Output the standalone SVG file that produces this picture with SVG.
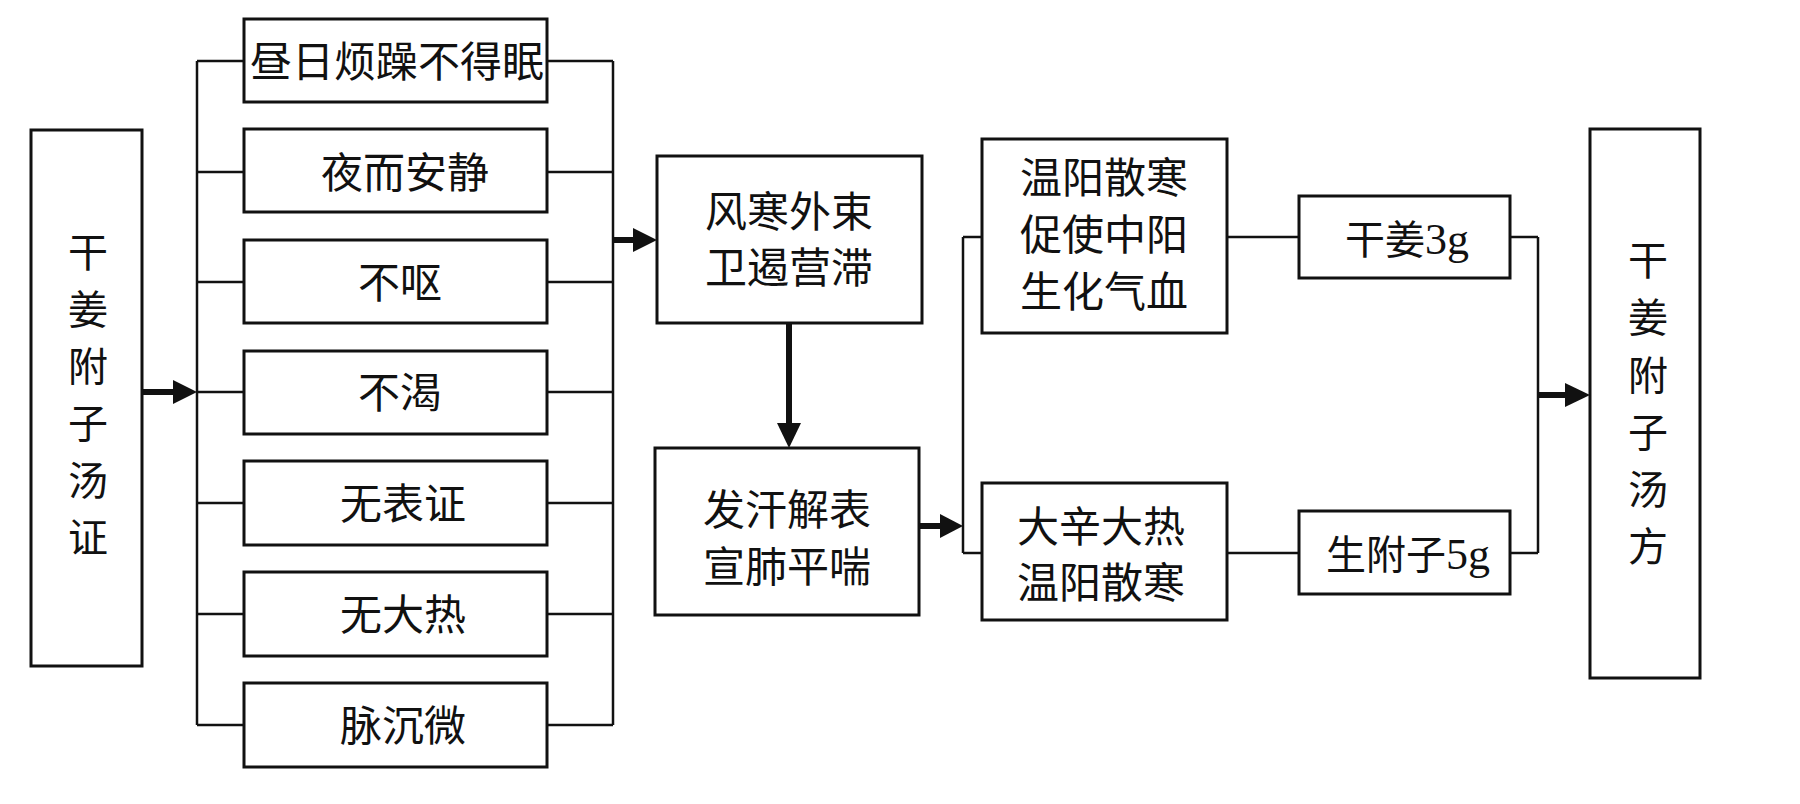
<svg xmlns="http://www.w3.org/2000/svg" width="1800" height="804" viewBox="0 0 1800 804">
<style>
.box{fill:#fff;stroke:#111;stroke-width:3}
.ln{stroke:#111;stroke-width:2.5;fill:none}
.shaft{stroke:#111;stroke-width:6;fill:none}
.head{fill:#111;stroke:none}
.t{font-family:"Noto Sans CJK SC","Liberation Serif",sans-serif;font-size:42px;fill:#111;text-anchor:middle}
.tv{font-size:40px}
.s{font-size:40px}
.lat{font-family:"Liberation Serif",serif;font-size:44px}
</style>
<rect width="1800" height="804" fill="#fff"/>
<g id="connectors">
  <line class="ln" x1="197" y1="61" x2="197" y2="725"/>
  <line class="ln" x1="613" y1="61" x2="613" y2="725"/>
  <line class="ln" x1="197" y1="61" x2="244" y2="61"/>
  <line class="ln" x1="197" y1="172" x2="244" y2="172"/>
  <line class="ln" x1="197" y1="282" x2="244" y2="282"/>
  <line class="ln" x1="197" y1="392" x2="244" y2="392"/>
  <line class="ln" x1="197" y1="503" x2="244" y2="503"/>
  <line class="ln" x1="197" y1="614" x2="244" y2="614"/>
  <line class="ln" x1="197" y1="725" x2="244" y2="725"/>
  <line class="ln" x1="547" y1="61" x2="613" y2="61"/>
  <line class="ln" x1="547" y1="172" x2="613" y2="172"/>
  <line class="ln" x1="547" y1="282" x2="613" y2="282"/>
  <line class="ln" x1="547" y1="392" x2="613" y2="392"/>
  <line class="ln" x1="547" y1="503" x2="613" y2="503"/>
  <line class="ln" x1="547" y1="614" x2="613" y2="614"/>
  <line class="ln" x1="547" y1="725" x2="613" y2="725"/>
  <line class="shaft" x1="142" y1="392" x2="176" y2="392"/>
  <polygon class="head" points="173,380 197,392 173,404"/>
  <line class="shaft" x1="613" y1="240" x2="636" y2="240"/>
  <polygon class="head" points="633,228 657,240 633,252"/>
  <line class="shaft" x1="789" y1="323" x2="789" y2="426"/>
  <polygon class="head" points="777,423 789,448 801,423"/>
  <line class="shaft" x1="919" y1="526" x2="943" y2="526"/>
  <polygon class="head" points="940,514 963,526 940,538"/>
  <line class="ln" x1="963" y1="237" x2="963" y2="553"/>
  <line class="ln" x1="963" y1="237" x2="982" y2="237"/>
  <line class="ln" x1="963" y1="553" x2="982" y2="553"/>
  <line class="ln" x1="1227" y1="237" x2="1299" y2="237"/>
  <line class="ln" x1="1227" y1="553" x2="1299" y2="553"/>
  <line class="ln" x1="1510" y1="237" x2="1538" y2="237"/>
  <line class="ln" x1="1510" y1="553" x2="1538" y2="553"/>
  <line class="ln" x1="1538" y1="237" x2="1538" y2="553"/>
  <line class="shaft" x1="1538" y1="395" x2="1568" y2="395"/>
  <polygon class="head" points="1565,383 1590,395 1565,407"/>
</g>
<g id="n-start">
  <rect class="box" x="31" y="130" width="111" height="536"/>
  <text class="t tv" x="88"><tspan x="88" y="267">干</tspan><tspan x="88" y="324">姜</tspan><tspan x="88" y="381">附</tspan><tspan x="88" y="438">子</tspan><tspan x="88" y="495">汤</tspan><tspan x="88" y="552">证</tspan></text>
</g>
<g id="n-s1"><rect class="box" x="244" y="19" width="303" height="83"/><text class="t" x="397" y="77">昼日烦躁不得眠</text></g>
<g id="n-s2"><rect class="box" x="244" y="129" width="303" height="83"/><text class="t" x="405" y="188">夜而安静</text></g>
<g id="n-s3"><rect class="box" x="244" y="240" width="303" height="83"/><text class="t" x="400" y="298">不呕</text></g>
<g id="n-s4"><rect class="box" x="244" y="351" width="303" height="83"/><text class="t" x="400" y="408">不渴</text></g>
<g id="n-s5"><rect class="box" x="244" y="461" width="303" height="84"/><text class="t" x="403" y="519">无表证</text></g>
<g id="n-s6"><rect class="box" x="244" y="572" width="303" height="84"/><text class="t" x="403" y="630">无大热</text></g>
<g id="n-s7"><rect class="box" x="244" y="683" width="303" height="84"/><text class="t" x="403" y="741">脉沉微</text></g>
<g id="n-fh">
  <rect class="box" x="657" y="156" width="265" height="167"/>
  <text class="t" x="789" y="227">风寒外束</text>
  <text class="t" x="789" y="283">卫遏营滞</text>
</g>
<g id="n-fj">
  <rect class="box" x="655" y="448" width="264" height="167"/>
  <text class="t" x="787" y="525">发汗解表</text>
  <text class="t" x="787" y="582">宣肺平喘</text>
</g>
<g id="n-wy">
  <rect class="box" x="982" y="139" width="245" height="194"/>
  <text class="t" x="1104" y="193">温阳散寒</text>
  <text class="t" x="1104" y="250">促使中阳</text>
  <text class="t" x="1104" y="307">生化气血</text>
</g>
<g id="n-dx">
  <rect class="box" x="982" y="483" width="245" height="137"/>
  <text class="t" x="1101" y="542">大辛大热</text>
  <text class="t" x="1101" y="598">温阳散寒</text>
</g>
<g id="n-gj">
  <rect class="box" x="1299" y="196" width="211" height="82"/>
  <text class="t s" x="1407" y="254">干姜<tspan class="lat">3g</tspan></text>
</g>
<g id="n-fz">
  <rect class="box" x="1299" y="511" width="211" height="83"/>
  <text class="t s" x="1408" y="569">生附子<tspan class="lat">5g</tspan></text>
</g>
<g id="n-end">
  <rect class="box" x="1590" y="129" width="110" height="549"/>
  <text class="t tv" x="1648"><tspan x="1648" y="275">干</tspan><tspan x="1648" y="332">姜</tspan><tspan x="1648" y="390">附</tspan><tspan x="1648" y="447">子</tspan><tspan x="1648" y="504">汤</tspan><tspan x="1648" y="561">方</tspan></text>
</g>
</svg>
